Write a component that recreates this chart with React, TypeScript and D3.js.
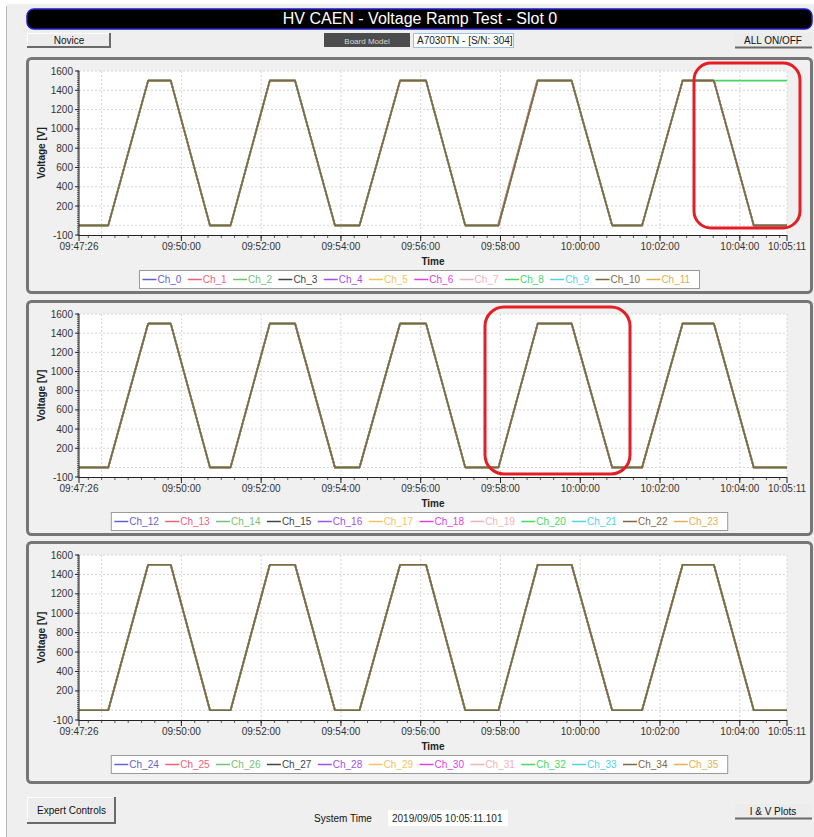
import React from 'react';
import * as d3 from 'd3';

// ---------- data ----------
const startTime = '09:47:26';
const endTime = '10:05:11';
const xTickLabels = ['09:47:26', '09:50:00', '09:52:00', '09:54:00', '09:56:00', '09:58:00', '10:00:00', '10:02:00', '10:04:00', '10:05:11'];
const xGridTimes = ['09:48:00', '09:50:00', '09:52:00', '09:54:00', '09:56:00', '09:58:00', '10:00:00', '10:02:00', '10:04:00', '10:05:11'];
const yTickLabels = [-100, 200, 400, 600, 800, 1000, 1200, 1400, 1600];
const yGridValues = [0, 200, 400, 600, 800, 1000, 1200, 1400, 1600];

// common ramp profile (time, voltage)
const rampTimes = ['09:47:26', '09:48:10', '09:49:10', '09:49:44', '09:50:43', '09:51:14', '09:52:13', '09:52:51', '09:53:51', '09:54:28', '09:55:29', '09:56:08', '09:57:07', '09:57:57', '09:58:56', '09:59:47', '10:00:48', '10:01:33', '10:02:34', '10:03:21', '10:04:21', '10:05:11'];
const rampVolts = [0, 0, 1500, 1500, 0, 0, 1500, 1500, 0, 0, 1500, 1500, 0, 0, 1500, 1500, 0, 0, 1500, 1500, 0, 0];
// exceptions in slot panel 1
const ch1Times = ['09:47:26', '09:48:10', '09:49:10', '09:49:44', '09:50:43', '09:51:14', '09:52:13', '09:52:51', '09:53:51', '09:54:28', '09:55:29', '09:56:08', '09:57:07', '09:57:56', '09:58:55', '09:59:47', '10:00:48', '10:01:33', '10:02:34', '10:03:21', '10:04:21', '10:05:11'];
const ch8Volts = [0, 0, 1500, 1500, 0, 0, 1500, 1500, 0, 0, 1500, 1500, 0, 0, 1500, 1500, 0, 0, 1500, 1500, 1500, 1500];

const panel1Channels = ['Ch_0', 'Ch_1', 'Ch_2', 'Ch_3', 'Ch_4', 'Ch_5', 'Ch_6', 'Ch_7', 'Ch_8', 'Ch_9', 'Ch_10', 'Ch_11'];
const panel2Channels = ['Ch_12', 'Ch_13', 'Ch_14', 'Ch_15', 'Ch_16', 'Ch_17', 'Ch_18', 'Ch_19', 'Ch_20', 'Ch_21', 'Ch_22', 'Ch_23'];
const panel3Channels = ['Ch_24', 'Ch_25', 'Ch_26', 'Ch_27', 'Ch_28', 'Ch_29', 'Ch_30', 'Ch_31', 'Ch_32', 'Ch_33', 'Ch_34', 'Ch_35'];
const channelColors = ['#6262d6', '#f0607a', '#74c274', '#444444', '#a24ef0', '#f2c45e', '#e040e0', '#f2b2ba', '#44d862', '#52d0ee', '#7a6846', '#e0b052'];

const FONT = "'Liberation Sans', Arial, sans-serif";
const parse = d3.timeParse('%H:%M:%S');

let _ctx: CanvasRenderingContext2D | null = null;
function textW(t: string, font: string) {
  if (!_ctx) _ctx = document.createElement('canvas').getContext('2d');
  if (!_ctx) return t.length * 5.5;
  _ctx.font = font;
  return _ctx.measureText(t).width;
}

type Series = { name: string; color: string; times: string[]; volts: number[] };

function panelSeries(names: string[], first: boolean): Series[] {
  return names.map((n, i) => ({
    name: n,
    color: channelColors[i],
    times: first && i === 1 ? ch1Times : rampTimes,
    volts: first && i === 8 ? ch8Volts : rampVolts,
  }));
}

const PL = 79, PR = 787;

function Chart({ top, plotTop, plotBottom, bottom, series }: { top: number; plotTop: number; plotBottom: number; bottom: number; series: Series[] }) {
  const x = d3.scaleTime().domain([parse(startTime)!, parse(endTime)!]).range([PL, PR]);
  const y = d3.scaleLinear().domain([-100, 1600]).range([plotBottom, plotTop]);
  const minorX = x.ticks(d3.timeSecond.every(20)!);
  const minorY = d3.range(-100, 1601, 20);
  const line = d3.line<[Date, number]>().x(d => x(d[0])).y(d => y(d[1]));
  // draw order: Ch_10 last
  const order = [0, 1, 2, 3, 4, 5, 6, 7, 8, 9, 11, 10];

  const lf = `10px ${FONT}`;
  const items = series.map(s => ({ s, w: 16 + textW(s.name, lf) + 5.4 }));
  const totalW = d3.sum(items, d => d.w) + 6;
  const cx = (27 + 812) / 2;
  let lx = cx - totalW / 2 + 3;
  const legY = plotBottom + 35;

  return (
    <g>
      <rect x={27.5} y={top + 1.5} width={784} height={bottom - top - 3} rx={4} fill="#f0f0f0" stroke="#767676" strokeWidth={3} />
      <rect x={PL} y={plotTop} width={PR - PL} height={plotBottom - plotTop} fill="#ffffff" />
      {yGridValues.map(v => (
        <line key={'gy' + v} x1={PL} x2={PR} y1={y(v)} y2={y(v)} stroke="#d6d6d6" strokeDasharray="2,2" />
      ))}
      {xGridTimes.map(t => (
        <line key={'gx' + t} x1={x(parse(t)!)} x2={x(parse(t)!)} y1={plotTop} y2={plotBottom} stroke="#d6d6d6" strokeDasharray="2,2" />
      ))}
      {order.map(i => {
        const s = series[i];
        const pts = s.times.map((t, k) => [parse(t)!, s.volts[k]] as [Date, number]);
        return <path key={s.name} d={line(pts) || ''} fill="none" stroke={s.color} strokeWidth={1.6} strokeLinejoin="round" />;
      })}
      {/* axes */}
      <line x1={PL} x2={PL} y1={plotTop} y2={plotBottom} stroke="#222" strokeWidth={1} />
      <line x1={PL} x2={PR} y1={plotBottom + 0.5} y2={plotBottom + 0.5} stroke="#222" strokeWidth={1} />
      {minorY.map(v => (
        <line key={'my' + v} x1={PL - 2} x2={PL} y1={y(v)} y2={y(v)} stroke="#333" strokeWidth={0.8} />
      ))}
      {yTickLabels.map(v => (
        <g key={'ty' + v}>
          <line x1={PL - 4} x2={PL} y1={y(v)} y2={y(v)} stroke="#222" />
          <text x={PL - 6} y={y(v) + 3.5} textAnchor="end" fontSize={10} fontFamily={FONT} fill="#333">{v}</text>
        </g>
      ))}
      {minorX.map(t => (
        <line key={'mx' + t.getTime()} x1={x(t)} x2={x(t)} y1={plotBottom} y2={plotBottom + 3} stroke="#333" strokeWidth={0.8} />
      ))}
      {xTickLabels.map(t => (
        <g key={'tx' + t}>
          <line x1={x(parse(t)!)} x2={x(parse(t)!)} y1={plotBottom} y2={plotBottom + 6} stroke="#222" />
          <text x={x(parse(t)!)} y={plotBottom + 15} textAnchor="middle" fontSize={10} fontFamily={FONT} fill="#333">{t}</text>
        </g>
      ))}
      <text transform={`translate(45,${(plotTop + plotBottom) / 2}) rotate(-90)`} textAnchor="middle" fontSize={10} fontWeight="bold" fontFamily={FONT} fill="#222">Voltage [V]</text>
      <text x={(PL + PR) / 2} y={plotBottom + 30} textAnchor="middle" fontSize={10} fontWeight="bold" fontFamily={FONT} fill="#222">Time</text>
      {/* legend */}
      <rect x={cx - totalW / 2} y={legY + 0.5} width={totalW} height={18} fill="#ffffff" stroke="#9a9a9a" />
      {items.map(it => {
        const x0 = lx;
        lx += it.w;
        return (
          <g key={'lg' + it.s.name}>
            <line x1={x0} x2={x0 + 14} y1={legY + 9.5} y2={legY + 9.5} stroke={it.s.color} strokeWidth={1.5} />
            <text x={x0 + 15} y={legY + 13} fontSize={10} fontFamily={FONT} fill={it.s.color}>{it.s.name}</text>
          </g>
        );
      })}
    </g>
  );
}

function Button({ x, y, w, h, label }: { x: number; y: number; w: number; h: number; label: string }) {
  return (
    <g>
      <rect x={x} y={y} width={w} height={h} fill="#ececec" />
      <line x1={x} x2={x + w} y1={y + 0.5} y2={y + 0.5} stroke="#ffffff" />
      <line x1={x + 0.5} x2={x + 0.5} y1={y} y2={y + h} stroke="#ffffff" />
      <line x1={x} x2={x + w} y1={y + h - 1} y2={y + h - 1} stroke="#6a6a6a" strokeWidth={2} />
      <line x1={x + w - 1} x2={x + w - 1} y1={y} y2={y + h} stroke="#6a6a6a" strokeWidth={2} />
      <text x={x + w / 2} y={y + h / 2 + 3.5} textAnchor="middle" fontSize={10} fontFamily={FONT} fill="#111">{label}</text>
    </g>
  );
}

export default function App() {
  const p1 = panelSeries(panel1Channels, true);
  const p2 = panelSeries(panel2Channels, false);
  const p3 = panelSeries(panel3Channels, false);
  return (
    <svg width={814} height={837} style={{ position: 'absolute', left: 0, top: 0 }}>
      <rect x={0} y={0} width={814} height={837} fill="#ffffff" />
      <rect x={7} y={4} width={807} height={833} fill="#efefef" />
      <line x1={6.5} x2={6.5} y1={6} y2={837} stroke="#b8b8b8" />
      {/* title */}
      <rect x={27} y={9} width={785} height={20} rx={7} fill="#000000" stroke="#1c1cc8" strokeWidth={1.5} />
      <text x={420} y={24} textAnchor="middle" fontSize={16} fontFamily={FONT} fill="#ffffff">HV CAEN - Voltage Ramp Test - Slot 0</text>
      {/* top controls */}
      <Button x={27} y={33} w={84} h={15} label="Novice" />
      <rect x={324} y={33} width={86} height={14} fill="#4c4c4c" />
      <text x={367} y={43.5} textAnchor="middle" fontSize={8} fontFamily={FONT} fill="#d8d8d8">Board Model</text>
      <rect x={413.5} y={33.5} width={100} height={14} fill="#ffffff" stroke="#9cc0e0" />
      <text x={417} y={44} fontSize={10} fontFamily={FONT} fill="#222">A7030TN - [S/N: 304]</text>
      <rect x={735} y={33} width={77} height={15} fill="#ececec" />
      <line x1={735} x2={812} y1={47.5} y2={47.5} stroke="#6a6a6a" strokeWidth={2} />
      <text x={773} y={44} textAnchor="middle" fontSize={10} fontFamily={FONT} fill="#111">ALL ON/OFF</text>
      {/* charts */}
      <Chart top={57} plotTop={71} plotBottom={235} bottom={294} series={p1} />
      <Chart top={300} plotTop={314} plotBottom={477} bottom={536} series={p2} />
      <Chart top={541} plotTop={555} plotBottom={720} bottom={784} series={p3} />
      {/* annotations */}
      <rect x={694} y={63} width={106} height={165} rx={17} fill="none" stroke="#e41e26" strokeWidth={3} />
      <rect x={485} y={307} width={145} height={167} rx={19} fill="none" stroke="#e41e26" strokeWidth={3} />
      {/* bottom controls */}
      <Button x={27} y={797} w={89} h={27} label="Expert Controls" />
      <text x={343} y={822} textAnchor="middle" fontSize={10} fontFamily={FONT} fill="#111">System Time</text>
      <rect x={388} y={810} width={120} height={16} fill="#ffffff" />
      <text x={392} y={822} fontSize={10} fontFamily={FONT} fill="#222">2019/09/05 10:05:11.101</text>
      <rect x={735} y={804} width={77} height={15} fill="#ececec" />
      <line x1={735} x2={812} y1={818.5} y2={818.5} stroke="#6a6a6a" strokeWidth={2} />
      <text x={773} y={815} textAnchor="middle" fontSize={10} fontFamily={FONT} fill="#111">I &amp; V Plots</text>
    </svg>
  );
}
